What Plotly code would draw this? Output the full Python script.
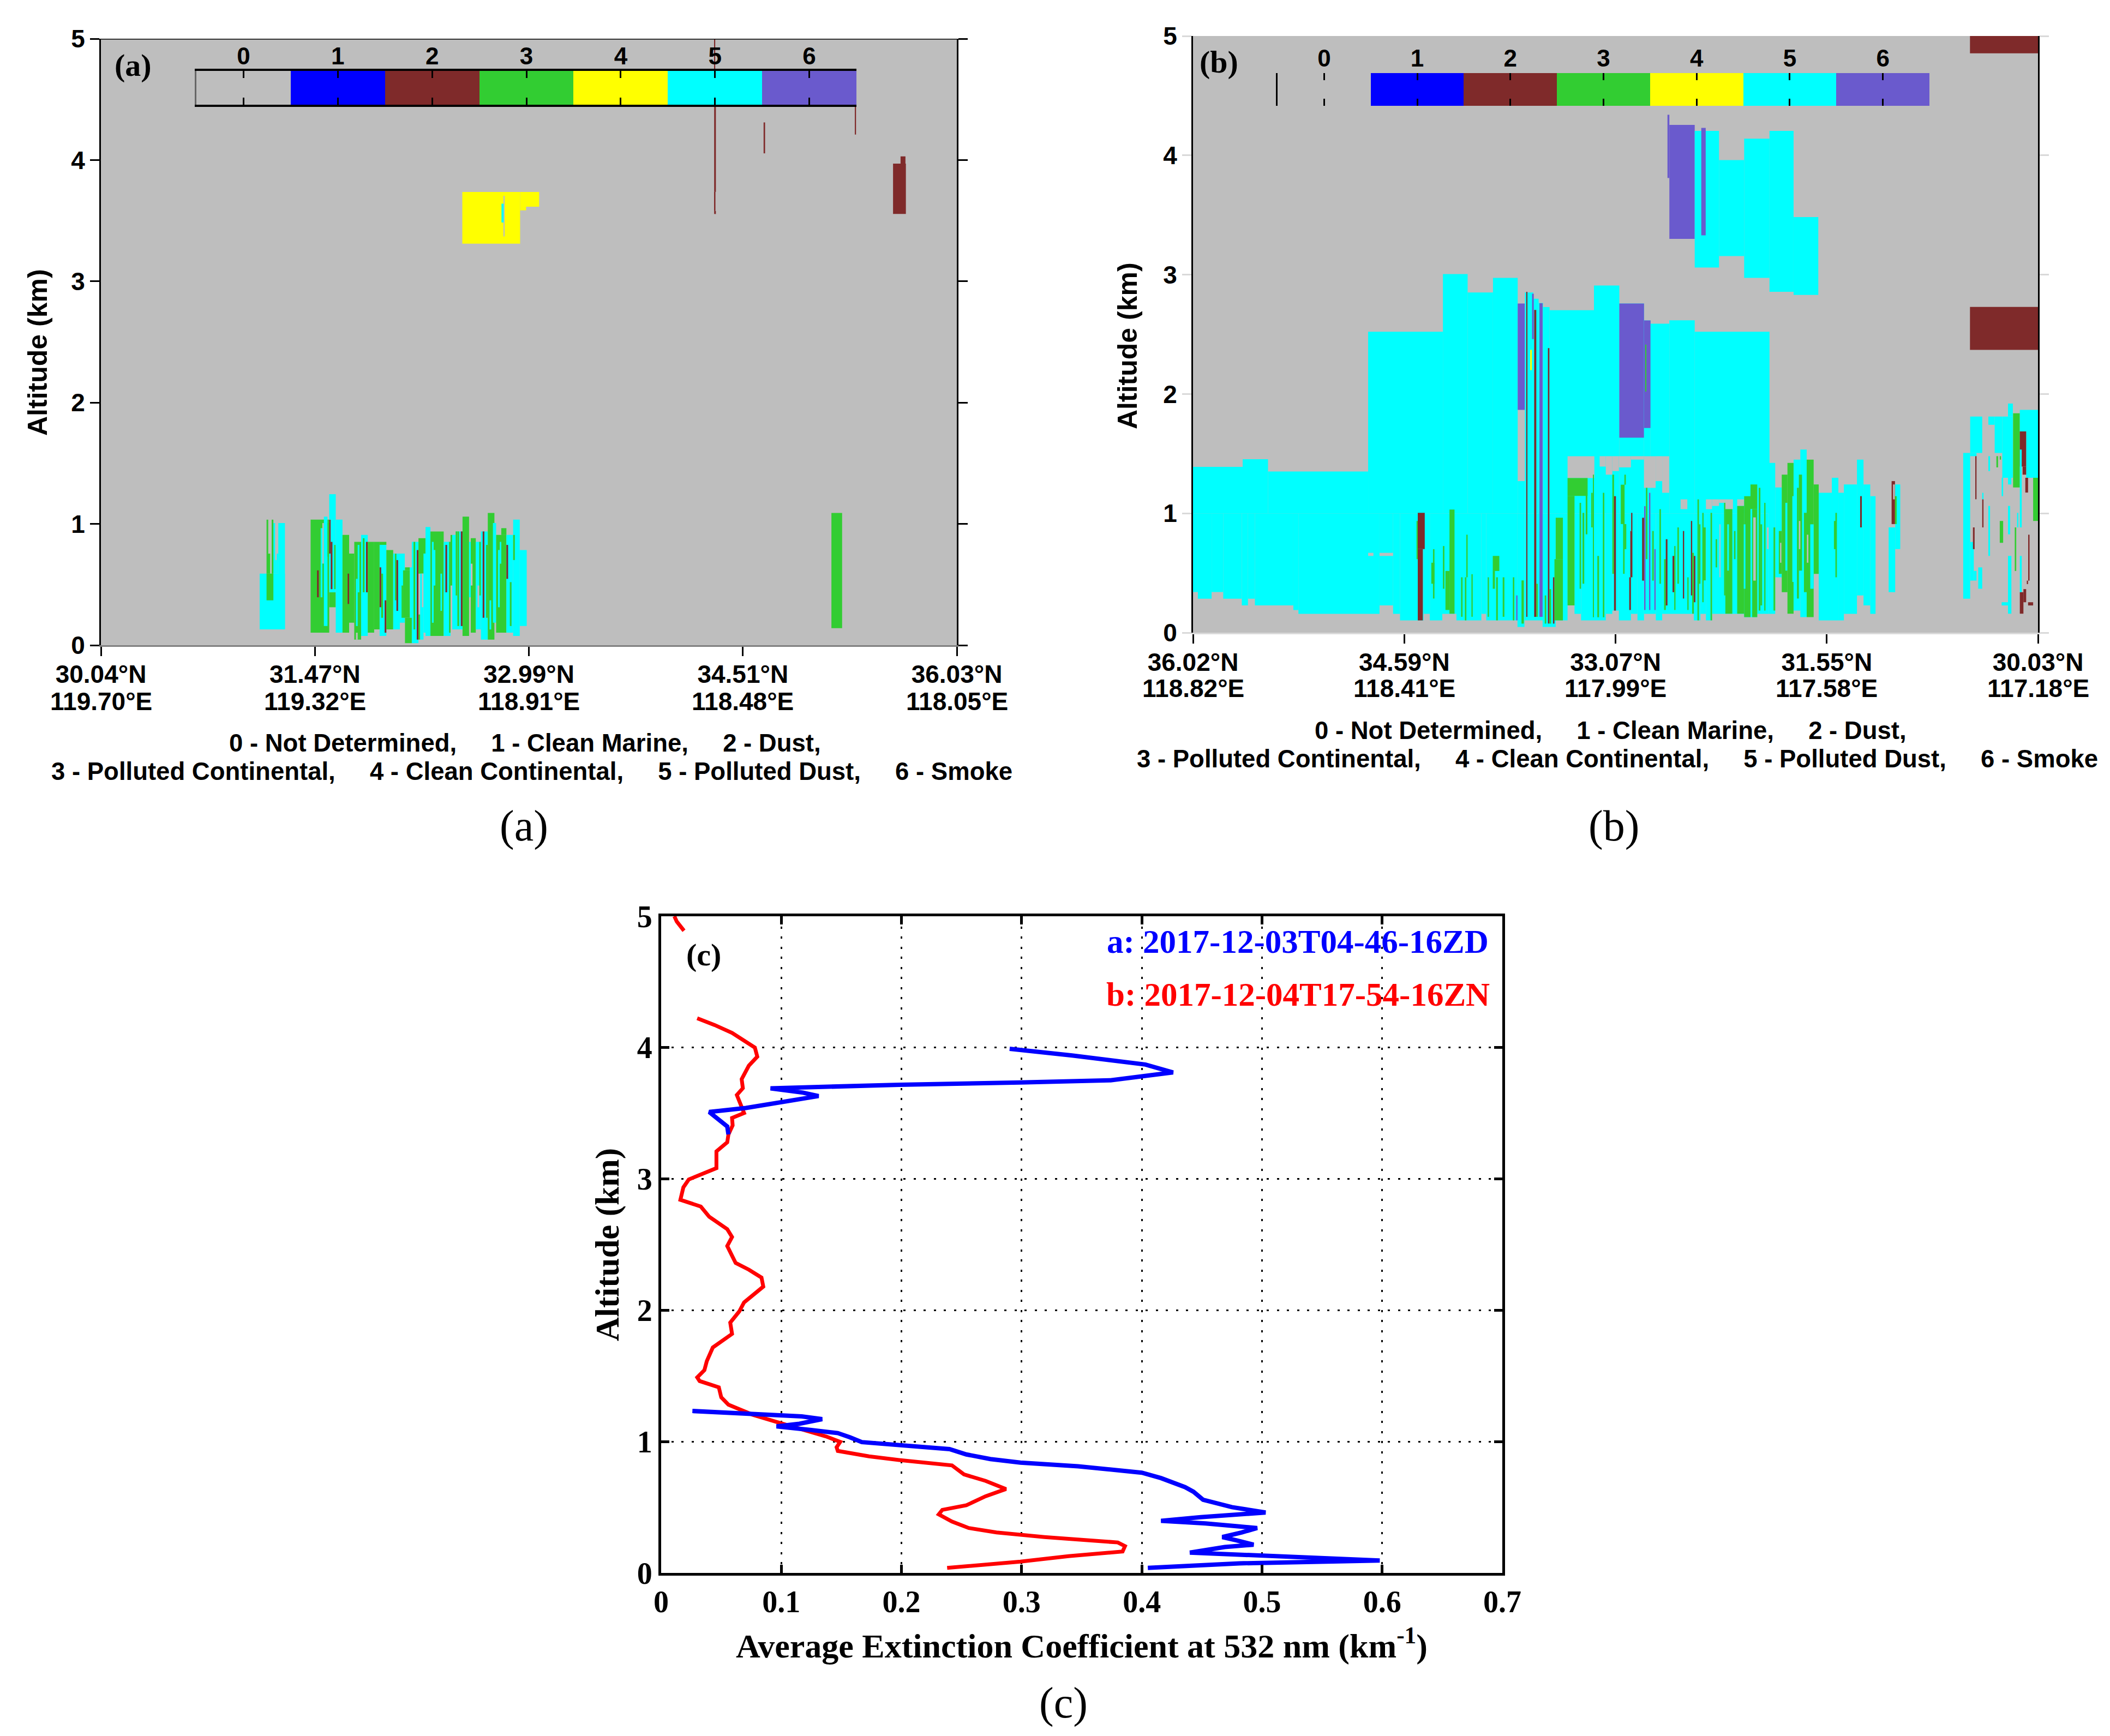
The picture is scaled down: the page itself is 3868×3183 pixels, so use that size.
import plotly.graph_objects as go

W, H = 3868, 3183

CLASS_COLORS = ["#BEBEBE", "#0000FF", "#7F2A2A", "#32CD32", "#FFFF00", "#00FFFF", "#6A5ACD"]
CLASS_TICKS = [0, 1, 2, 3, 4, 5, 6]
ALT_TICKS = [0, 1, 2, 3, 4, 5]
TRACK_TICKS = [0, 100, 200, 300, 400]

A_LAT = ["30.04°N", "31.47°N", "32.99°N", "34.51°N", "36.03°N"]
A_LON = ["119.70°E", "119.32°E", "118.91°E", "118.48°E", "118.05°E"]
B_LAT = ["36.02°N", "34.59°N", "33.07°N", "31.55°N", "30.03°N"]
B_LON = ["118.82°E", "118.41°E", "117.99°E", "117.58°E", "117.18°E"]

# rows: class, along-track start, along-track end, altitude bottom (km), altitude top (km)
A_BACKGROUND = [(0, 0, 400, 0, 5)]
A_ELEVATED = [
    (4, 168.9, 195.9, 3.31, 3.737), (4, 195.9, 204.8, 3.615, 3.737), (4, 195.9, 198.7, 3.585, 3.615),
    (0, 188.1, 188.7, 3.37, 3.705), (5, 187.2, 188.2, 3.485, 3.64),
    (2, 286.6, 287.4, 3.737, 4.46), (2, 286.8, 287.2, 3.58, 3.737), (2, 286.6, 287.4, 3.555, 3.58),
    (2, 286.8, 287.1, 4.74, 5.0), (2, 309.7, 310.4, 4.055, 4.31), (2, 352.5, 352.9, 4.21, 4.455),
    (2, 370.2, 376.2, 3.555, 3.97), (2, 373.7, 376.0, 3.97, 4.03), (3, 341.4, 346.4, 0.14, 1.09),
]
A_LOW_LEFT = [
    (5, 74.2, 86.0, 0.13, 0.59), (5, 82.9, 86.0, 0.13, 1.007), (5, 80.6, 81.4, 0.59, 1.007),
    (5, 82.2, 82.9, 0.59, 0.755), (5, 81.4, 82.2, 0.59, 0.702), (3, 77.4, 80.6, 0.37, 0.59),
    (3, 77.4, 79.1, 0.59, 0.755), (3, 77.4, 78.2, 0.755, 1.035), (3, 79.8, 80.6, 0.59, 1.035),
]
A_LOW_MID = [
    (3, 98, 106.7, 0.103, 1.035), (0, 103.5, 104.2, 0.672, 1.007), (5, 102.7, 103.5, 0.395, 0.965),
    (3, 103.5, 104.2, 0.395, 0.672), (2, 101, 101.8, 0.395, 0.617), (5, 104.2, 105.9, 0.158, 1.06),
    (3, 105.9, 106.7, 0.73, 1.007), (2, 106.7, 107.4, 0.755, 1.035), (5, 106.7, 109.75, 1.035, 1.245),
    (5, 107.4, 109.75, 0.436, 1.035), (5, 106.7, 107.4, 0.436, 0.755), (2, 107.4, 108.2, 0.462, 0.852),
    (3, 109, 109.75, 0.462, 0.827), (3, 106.7, 109.75, 0.313, 0.436), (5, 109.75, 112.9, 0.103, 1.035),
    (3, 112.9, 116, 0.103, 0.909), (3, 116, 118.4, 0.185, 0.755), (2, 115.3, 116, 0.34, 0.59),
    (3, 118.4, 121.6, 0.046, 0.852), (0, 119.2, 120, 0.046, 0.103), (5, 120, 120.8, 0.436, 0.827),
    (5, 119.2, 120, 0.158, 0.547), (5, 121.6, 124.7, 0.076, 0.909), (3, 122.4, 123.2, 0.436, 0.882),
    (2, 123.9, 124.7, 0.436, 0.852), (3, 124.7, 127.7, 0.103, 0.852), (3, 127.7, 130.25, 0.13, 0.852),
    (3, 130.25, 133.4, 0.827, 0.852), (5, 130.25, 133.4, 0.076, 0.827), (2, 130.25, 131, 0.313, 0.642),
    (3, 131, 131.85, 0.226, 0.59), (2, 132.6, 133.4, 0.103, 0.37), (3, 133.4, 136.6, 0.13, 0.785),
    (5, 136.6, 139.7, 0.13, 0.755), (3, 137.4, 138.1, 0.37, 0.755), (2, 138.1, 138.9, 0.283, 0.702),
    (5, 139.7, 142, 0.185, 0.755), (3, 140.5, 141.2, 0.226, 0.492), (3, 141.2, 144.4, 0.226, 0.617),
    (3, 142.1, 144.4, 0.617, 0.642), (5, 144.4, 145.3, 0.226, 0.642), (3, 142.1, 145.3, 0.017, 0.226),
]
A_LOW_RIGHT = [
    (5, 145.3, 148.4, 0.017, 0.852), (3, 146.1, 146.9, 0.13, 0.852), (2, 147.6, 148.4, 0.046, 0.785),
    (3, 148.4, 151.7, 0.59, 0.882), (3, 148.4, 149.2, 0.046, 0.253), (5, 149.2, 150.75, 0.046, 0.59),
    (0, 150, 150.75, 0.313, 0.59), (3, 150.75, 151.7, 0.755, 0.827), (5, 150.75, 152.3, 0.103, 0.755),
    (3, 152.3, 153.1, 0.313, 0.755), (5, 151.7, 154, 0.076, 0.975), (3, 154, 160.2, 0.076, 0.938),
    (5, 154.7, 155.5, 0.185, 0.852), (5, 155.5, 156.3, 0.492, 0.785), (5, 158.7, 159.4, 0.283, 0.59),
    (5, 160.2, 163.4, 0.076, 0.852), (2, 161, 161.8, 0.436, 0.827), (3, 162.7, 163.4, 0.103, 0.852),
    (3, 163.4, 164.2, 0.492, 0.909), (5, 164.2, 169, 0.13, 0.909), (5, 165.8, 169, 0.13, 0.938),
    (3, 165.8, 166.5, 0.41, 0.938), (3, 166.6, 167.4, 0.158, 0.938), (2, 168.2, 169, 0.158, 0.938),
    (3, 169, 172.05, 0.076, 1.06), (5, 172.05, 172.85, 0.395, 0.852), (3, 172.85, 175.2, 0.103, 0.882),
    (0, 172.85, 173.65, 0.492, 0.672), (5, 175.2, 177.6, 0.13, 0.852), (3, 176.8, 177.6, 0.41, 0.852),
    (5, 177.6, 180.8, 0.046, 0.938), (2, 178.4, 179.2, 0.226, 0.938), (0, 176, 176.8, 0.313, 0.492),
    (3, 180, 180.8, 0.226, 0.827), (3, 180.8, 183.9, 0.046, 1.09), (5, 181.6, 182.4, 0.13, 0.37),
    (5, 183.2, 184.7, 0.185, 1.007), (3, 184.7, 189.5, 0.103, 0.909), (3, 187.1, 189.5, 0.909, 0.965),
    (5, 185.6, 186.4, 0.313, 0.785), (5, 186.4, 187.1, 0.672, 0.852), (5, 189.5, 192.65, 0.103, 0.909),
    (2, 189.5, 190.3, 0.547, 0.827), (3, 191.1, 191.9, 0.158, 0.52), (5, 192.65, 195.75, 0.076, 1.035),
    (3, 192.65, 193.45, 0.702, 0.909), (5, 195.75, 199, 0.158, 0.785),
]

B_BACKGROUND = [(0, 0, 400, 0, 5)]
B_PLUME = [
    (6, 224.6, 225.5, 3.81, 4.34), (6, 225.5, 237.5, 3.30, 4.255), (5, 237.5, 249, 3.06, 4.205),
    (6, 240.6, 242.7, 3.33, 4.23), (5, 249, 260.9, 3.156, 3.96), (5, 260.9, 272.9, 2.973, 4.14),
    (5, 272.9, 284.3, 2.857, 4.205), (5, 284.3, 296, 2.83, 3.483),
    (2, 367.8, 400.7, 4.855, 5), (2, 367.8, 400.7, 2.37, 2.73),
]
B_MID_LAYER = [
    (5, 0, 23.5, 1, 1.389), (5, 23.5, 35.5, 1, 1.453), (5, 35.5, 82.9, 1, 1.351), (5, 82.9, 118.3, 1, 2.522),
    (5, 118.3, 130, 1, 3.005), (5, 130, 142, 1, 2.851), (5, 142, 153.7, 1, 2.973), (5, 153.7, 157.1, 1, 1.27),
    (6, 153.7, 157.1, 1.867, 2.758), (5, 157.1, 161.1, 1, 2.851), (5, 161.1, 163.6, 1, 2.798),
    (5, 163.6, 165.7, 1, 2.763), (5, 165.7, 168.8, 1, 2.729), (5, 168.8, 189.8, 1, 2.702),
    (5, 189.8, 201.8, 1, 2.909), (5, 201.8, 213.5, 1, 2.758), (6, 201.8, 213.5, 1.634, 2.758),
    (5, 213.5, 216.6, 1, 2.617), (6, 213.5, 216.6, 1.715, 2.617), (3, 214.1, 214.6, 2.02, 2.414),
    (5, 216.6, 225.5, 1, 2.589), (5, 225.5, 237.5, 1, 2.618), (5, 237.5, 272.9, 1, 2.522),
]
B_LOW_BASE = [
    (5, 0, 2.3, 0.34, 1), (5, 2.3, 8.8, 0.284, 1), (5, 8.8, 14.3, 0.34, 1), (5, 14.3, 23.1, 0.284, 1),
    (5, 23.1, 26, 0.228, 1), (5, 26, 29.3, 0.284, 1), (5, 29.3, 47.5, 0.228, 1), (5, 47.5, 49.9, 0.19, 1),
    (5, 49.9, 88.3, 0.158, 1), (5, 88.3, 94.7, 0.228, 1), (5, 94.7, 98, 0.158, 1), (5, 98, 109.1, 0.103, 1),
    (5, 109.1, 112.1, 0.158, 1), (5, 112.1, 118, 0.103, 1), (5, 118, 124.7, 0.158, 1), (5, 124.7, 136.5, 0.103, 1),
    (5, 136.5, 138.8, 0.158, 1), (5, 138.8, 153.6, 0.103, 1), (5, 153.6, 156.9, 0.048, 1), (5, 156.9, 165.5, 0.103, 1),
    (5, 165.5, 171.7, 0.048, 1), (5, 171.7, 177.3, 0.103, 1), (5, 177.3, 180.6, 0.228, 1), (5, 180.6, 183.7, 0.158, 1),
    (5, 183.7, 195.4, 0.103, 1), (5, 195.4, 198.5, 0.158, 1), (5, 198.5, 201.6, 0.185, 1), (5, 201.6, 207.3, 0.103, 1),
    (5, 207.3, 210.4, 0.158, 1), (5, 210.4, 213.5, 0.103, 1), (5, 213.5, 219.1, 0.158, 1), (5, 219.1, 222.1, 0.103, 1),
    (5, 222.1, 237.1, 0.158, 1), (5, 237.1, 240.2, 0.103, 1), (5, 240.2, 242.8, 0.158, 1), (5, 242.8, 245.7, 0.103, 1),
    (5, 245.7, 260.9, 0.158, 1), (5, 260.9, 267.1, 0.13, 1), (5, 267.1, 272.5, 0.158, 1),
]
B_LOW_EAST = [
    (5, 272.5, 275.6, 0.158, 1.423), (5, 275.6, 278.7, 0.464, 1.217), (3, 278.7, 281.4, 0.339, 1.324),
    (5, 280.4, 281.4, 0.52, 1.088), (3, 281.4, 284.3, 0.159, 1.423), (5, 284.3, 287.5, 0.185, 1.45),
    (5, 287.5, 290.5, 0.13, 1.534), (3, 290.5, 293.8, 0.13, 1.45), (3, 293.8, 296.2, 0.493, 1.242),
    (5, 296.2, 302.4, 0.103, 1.172), (5, 302.4, 305.5, 0.103, 1.298), (5, 305.5, 308.1, 0.103, 1.172),
    (5, 308.1, 314.3, 0.158, 1.242), (5, 314.3, 317.4, 0.312, 1.45), (5, 317.4, 320.6, 0.228, 1.242),
    (5, 320.6, 323.1, 0.158, 1.144), (5, 329.3, 332.4, 0.339, 0.882), (5, 332.4, 334.8, 0.7, 1.242),
]
B_GAPS = [
    (0, 177.3, 190, 1.296, 1.479), (0, 192.5, 195.4, 1.392, 1.479), (0, 195.4, 198.5, 1.324, 1.479),
    (0, 198.5, 201.6, 1.354, 1.479), (0, 201.6, 207.3, 1.385, 1.479), (0, 207.3, 213.5, 1.45, 1.479),
    (0, 213.5, 219, 1.214, 1.479), (0, 219, 222.1, 1.27, 1.479), (0, 222.1, 225.4, 1.172, 1.479),
    (0, 230.8, 234, 1.035, 1.117), (0, 242.8, 245.7, 1.035, 1.117), (0, 245.7, 249, 1.062, 1.117),
    (0, 249, 252, 1.088, 1.117), (0, 252, 255.6, 1.035, 1.117), (0, 257.6, 260.9, 1.062, 1.117),
    (0, 82.9, 85.4, 0.643, 0.669), (0, 88.3, 94.7, 0.643, 0.669),
]
B_STRIPES_WEST = [
    (3, 177.3, 186.8, 1.146, 1.296), (3, 177.3, 180.6, 0.228, 1.146),
    (3, 105.8, 106.4, 0.616, 0.936), (2, 106.4, 109.7, 0.7, 1.004), (2, 106.4, 108.8, 0.103, 0.7),
    (3, 112.8, 114.3, 0.41, 0.586), (3, 113.6, 114.3, 0.286, 0.7), (3, 118.3, 119, 0.368, 0.726),
    (3, 119.5, 121.4, 0.19, 0.517), (3, 121.4, 123.8, 0.159, 1.032), (3, 126.9, 127.6, 0.133, 0.464),
    (3, 128.7, 129.4, 0.103, 0.464), (3, 129.6, 130, 0.464, 0.821), (3, 131.8, 132.4, 0.133, 0.49),
    (3, 141.9, 145, 0.517, 0.643), (3, 141.9, 142.9, 0.368, 0.517), (3, 139.5, 140.1, 0.133, 0.464),
    (3, 143.5, 144.3, 0.103, 0.464), (3, 146.6, 147.4, 0.133, 0.464), (3, 151.4, 152.1, 0.103, 0.464),
    (3, 155.5, 156.6, 0.076, 0.438), (6, 153, 153.6, 0.103, 0.312),
    (2, 157.75, 158.3, 0.133, 2.857), (2, 161.5, 162.5, 0.133, 2.705), (6, 164, 165.5, 0.133, 2.76),
    (2, 168, 168.7, 0.076, 2.385), (6, 160.5, 161.3, 2.46, 2.84), (4, 159.6, 160.4, 2.2, 2.37),
]
B_STRIPES_CENTRE = [
    (3, 162.5, 163.2, 0.133, 0.41), (3, 166.5, 167.2, 0.076, 0.312), (3, 168.7, 169.5, 0.076, 0.365),
    (2, 170.4, 171.1, 0.076, 0.464), (3, 171.1, 175.1, 0.103, 0.616), (3, 171.7, 175.1, 0.616, 0.963),
    (3, 183, 183.7, 0.368, 1.088), (3, 184.4, 185.2, 0.41, 1.004), (3, 185.9, 186.7, 0.824, 1.172),
    (3, 188.5, 189.2, 0.882, 1.172), (3, 189.4, 189.8, 0.129, 1.324), (3, 191.4, 192.2, 0.129, 0.643),
    (3, 194, 194.7, 0.129, 1.172), (3, 198.5, 199.3, 0.493, 1.324), (2, 199.3, 200.2, 0.185, 1.144),
    (3, 202.5, 204.3, 0.91, 1.24), (3, 204.2, 204.9, 1.24, 1.324), (3, 203.6, 204.3, 0.493, 0.91),
    (3, 204.3, 205.1, 0.7, 0.91), (2, 207, 208, 0.464, 0.852), (2, 207.4, 208, 0.852, 1.004),
    (2, 206.5, 207.3, 0.19, 0.464), (2, 212.6, 213.5, 0.436, 0.963), (6, 213.7, 214.2, 0.19, 1.06),
    (3, 214.4, 215.1, 0.616, 1.214), (6, 216, 216.5, 0.19, 1.172), (3, 217.4, 218.1, 0.436, 0.852),
    (6, 218.4, 219, 0.19, 0.7), (3, 220.8, 221.5, 0.41, 1.035),
    (3, 223, 223.8, 0.19, 0.616), (2, 223.8, 224.6, 0.228, 0.783), (2, 227, 227.8, 0.339, 0.643),
    (3, 227.8, 228.4, 0.19, 0.726), (3, 229.3, 230, 0.41, 0.882), (2, 231.9, 232.5, 0.286, 0.852),
    (3, 234, 234.6, 0.19, 0.464), (2, 235.7, 236.3, 0.312, 0.936), (3, 236.3, 237.1, 0.159, 0.669),
    (2, 237.1, 237.8, 0.255, 0.643), (3, 238.8, 239.5, 0.103, 1.117), (3, 239.5, 240.2, 0.41, 0.908),
    (3, 241.1, 241.7, 0.255, 1.004), (3, 241.7, 242.7, 0.438, 0.882), (3, 245, 245.7, 0.103, 1.004),
    (3, 247.4, 248.1, 0.547, 0.783),
]
B_STRIPES_EAST = [
    (0, 249.2, 249.6, 0.464, 0.908), (3, 251.4, 252, 0.312, 1.088), (3, 252, 255.3, 0.159, 1.035),
    (5, 252.9, 253.7, 0.52, 0.908), (3, 256.1, 256.8, 0.616, 0.852), (3, 257.6, 260.9, 0.159, 1.062),
    (3, 260.9, 263.9, 0.13, 1.144), (3, 263.9, 267.1, 1.035, 1.242), (3, 264.7, 267.1, 0.13, 1.035),
    (0, 265.2, 266.4, 0.436, 0.966), (5, 263.9, 264.7, 0.185, 1.035), (5, 260.7, 261.5, 0.368, 0.908),
    (3, 267.8, 268.6, 0.185, 1.214), (3, 268.6, 269.4, 0.228, 0.908), (3, 270.4, 271, 0.185, 1.088),
    (0, 271.7, 272.5, 0.7, 0.882), (3, 274.8, 275.6, 0.185, 0.882), (3, 277.3, 278.7, 0.493, 0.852),
    (0, 277.9, 278.5, 0.586, 0.753), (5, 283.7, 284.3, 0.425, 1.144), (3, 285.9, 286.8, 0.286, 1.214),
    (3, 286.8, 288.3, 0.52, 1.324), (0, 286.8, 287.5, 0.7, 0.936), (3, 289.2, 290.5, 0.339, 1.004),
    (5, 292.2, 293.8, 0.368, 0.908), (0, 290.6, 291.3, 0.586, 0.821), (3, 303.4, 304.5, 0.7, 0.936),
    (3, 304.1, 304.8, 0.464, 1.004), (2, 315.8, 316.6, 0.882, 1.144), (2, 330.7, 332.3, 0.91, 1.27),
    (0, 331.4, 332.2, 1.117, 1.242), (3, 332.3, 333.1, 0.91, 1.144),
]
B_FRAGMENTS = [
    (5, 364.6, 367.9, 0.284, 1.506), (5, 367.9, 373.6, 1.506, 1.811), (5, 367.9, 370.9, 1.479, 1.506),
    (5, 367.9, 369.6, 0.436, 0.76), (5, 369.6, 370.9, 0.436, 0.517), (5, 371.7, 373.6, 0.368, 0.547),
    (2, 370.3, 370.9, 1.118, 1.479), (2, 369.2, 370, 0.7, 0.882), (5, 373.6, 374.2, 1.117, 1.172),
    (2, 373.6, 374.2, 0.882, 1.117), (5, 376.5, 377.3, 1.354, 1.479), (5, 376.5, 379.5, 1.742, 1.811),
    (5, 379.5, 383.1, 1.506, 1.811), (5, 383.1, 388.1, 1.298, 1.811), (5, 385.8, 388.1, 1.811, 1.92),
    (5, 385.8, 387.4, 1.242, 1.298), (5, 382.8, 383.5, 1.144, 1.298), (5, 376.5, 377.3, 0.643, 1.062),
    (5, 385.8, 386.8, 0.824, 1.062), (5, 385.8, 387.4, 0.159, 0.643), (3, 380.3, 381.1, 1.385, 1.479),
    (3, 381.9, 382.5, 1.45, 1.479), (3, 381.9, 383.5, 0.753, 0.936), (3, 388.2, 391.4, 1.217, 1.838),
    (3, 389, 389.7, 0.517, 0.882), (5, 390.1, 390.7, 0.882, 1.004), (5, 391.4, 400, 1.686, 1.867),
    (5, 394.4, 400, 1.298, 1.686), (2, 391.4, 394.4, 1.392, 1.686), (2, 392.7, 394.4, 1.324, 1.392),
    (2, 394, 395.3, 1.174, 1.298), (5, 391.4, 392.3, 0.882, 1.534), (3, 397.7, 400, 0.936, 1.298),
    (5, 391.4, 392.3, 0.339, 0.643), (2, 391.4, 393.1, 0.159, 0.339), (2, 393.1, 394.4, 0.255, 0.365),
    (2, 395.3, 397.7, 0.228, 0.255), (5, 382.8, 385.8, 0.228, 0.255), (2, 394.7, 395.3, 0.407, 0.436),
    (2, 395.6, 396, 0.436, 0.821),
]

BLUE_EXT = [0.405, 0.44, 0.481, 0.598, 0.538, 0.493, 0.44, 0.469, 0.493, 0.479, 0.467, 0.483, 0.496, 0.453, 0.416,
            0.449, 0.503, 0.475, 0.451, 0.443, 0.436, 0.416, 0.4, 0.347, 0.299, 0.274, 0.254, 0.24, 0.202, 0.167,
            0.157, 0.147, 0.125, 0.096, 0.115, 0.134, 0.117, 0.026, None,
            0.056, 0.055, 0.04, 0.0705, 0.131, 0.118, 0.091, 0.198, 0.299, 0.374, 0.426, 0.403, 0.342, 0.29]
BLUE_ALT = [0.038, 0.055, 0.073, 0.094, 0.12, 0.137, 0.155, 0.197, 0.215, 0.248, 0.273, 0.308, 0.342, 0.377, 0.397,
            0.425, 0.46, 0.501, 0.557, 0.618, 0.653, 0.722, 0.763, 0.812, 0.84, 0.867, 0.902, 0.943, 0.967, 0.996,
            1.033, 1.065, 1.088, 1.116, 1.136, 1.171, 1.192, 1.233, None,
            3.339, 3.4, 3.51, 3.54, 3.631, 3.657, 3.69, 3.717, 3.734, 3.751, 3.811, 3.871, 3.94, 3.991]
RED_EXT = [0.238, 0.299, 0.339, 0.384, 0.386, 0.38, 0.319, 0.279, 0.256, 0.242, 0.231, 0.234, 0.254, 0.27, 0.287, 0.27,
           0.252, 0.242, 0.198, 0.173, 0.147, 0.146, 0.149, 0.137, 0.096, 0.076, 0.056, 0.05, 0.048, 0.032, 0.03, 0.036,
           0.038, 0.043, 0.059, 0.0575, 0.065, 0.069, 0.085, 0.0835, 0.073, 0.062, 0.055, 0.059, 0.055, 0.04, 0.033,
           0.016, 0.0185, 0.023, 0.046, 0.046, 0.055, 0.056, 0.0595, 0.059, 0.069, 0.065, 0.063, 0.068, 0.067, 0.073,
           0.08, 0.078, 0.059, 0.0445, 0.03, None, 0.019, 0.013, 0.011]
RED_ALT = [0.038, 0.086, 0.128, 0.163, 0.204, 0.232, 0.273, 0.308, 0.342, 0.391, 0.446, 0.48, 0.515, 0.584, 0.639, 0.701,
           0.75, 0.819, 0.86, 0.888, 0.929, 0.957, 0.998, 1.04, 1.15, 1.205, 1.281, 1.337, 1.413, 1.461, 1.489, 1.544,
           1.613, 1.717, 1.82, 1.906, 1.991, 2.06, 2.18, 2.249, 2.309, 2.36, 2.489, 2.558, 2.618, 2.712, 2.79,
           2.841, 2.936, 2.996, 3.082, 3.21, 3.279, 3.339, 3.408, 3.464, 3.502, 3.588, 3.639, 3.691, 3.76, 3.863,
           3.931, 4.0, 4.112, 4.172, 4.223, None, 4.89, 4.96, 5.0]

SANS = "Liberation Sans"
SERIF = "Liberation Serif"


def hdom(x0, x1):
    return [x0 / W, x1 / W]


def vdom(top, bottom):
    return [1 - bottom / H, 1 - top / H]


def curtain(rows, xa, ya):
    left = [r[1] for r in rows]
    right = [r[2] for r in rows]
    low = [r[3] for r in rows]
    high = [r[4] for r in rows]
    return go.Bar(
        x=[(a + b) / 2 for a, b in zip(left, right)],
        width=[b - a for a, b in zip(left, right)],
        base=low,
        y=[b - a for a, b in zip(low, high)],
        marker=dict(color=[CLASS_COLORS[r[0]] for r in rows], line=dict(width=0)),
        xaxis=xa, yaxis=ya, showlegend=False, hoverinfo="skip",
    )


def class_bar(xa, ya):
    scale = []
    for i, c in enumerate(CLASS_COLORS):
        scale += [[i / 7, c], [(i + 1) / 7, c]]
    return go.Heatmap(z=[CLASS_TICKS], x=CLASS_TICKS, y=[0], zmin=-0.5, zmax=6.5, colorscale=scale,
                      showscale=False, xaxis=xa, yaxis=ya, hoverinfo="skip")


fig = go.Figure()
fig.add_trace(curtain(A_BACKGROUND + A_ELEVATED + A_LOW_LEFT + A_LOW_MID + A_LOW_RIGHT, "x", "y"))
fig.add_trace(curtain(B_BACKGROUND + B_PLUME + B_MID_LAYER + B_LOW_BASE + B_LOW_EAST + B_GAPS
                      + B_STRIPES_WEST + B_STRIPES_CENTRE + B_STRIPES_EAST + B_FRAGMENTS, "x2", "y2"))
fig.add_trace(go.Scatter(x=RED_EXT, y=RED_ALT, mode="lines", line=dict(color="#FF0000", width=7),
                         xaxis="x3", yaxis="y3", showlegend=False, hoverinfo="skip"))
fig.add_trace(go.Scatter(x=BLUE_EXT, y=BLUE_ALT, mode="lines", line=dict(color="#0000FF", width=8),
                         xaxis="x3", yaxis="y3", showlegend=False, hoverinfo="skip"))
fig.add_trace(class_bar("x4", "y4"))
fig.add_trace(class_bar("x5", "y5"))

sans_tick = dict(family=SANS, size=46, color="black", weight="bold")
serif_tick = dict(family=SERIF, size=56, color="black", weight="bold")


def track_axis(domain, labels, anchor, color, standoff):
    return dict(domain=domain, anchor=anchor, range=[0, 400], tickmode="array", tickvals=TRACK_TICKS, ticktext=labels,
                ticks="outside", ticklen=17, tickwidth=3, tickcolor="black", showline=True, linecolor=color,
                linewidth=3, showgrid=False, zeroline=False, tickfont=sans_tick, tickangle=0, fixedrange=True,
                automargin=False, ticklabelstandoff=standoff)


def alt_axis(domain, anchor, **extra):
    base = dict(domain=domain, anchor=anchor, range=[0, 5], tickmode="array", tickvals=ALT_TICKS,
                ticks="outside", ticklen=17, tickwidth=3, tickcolor="black", showline=True, linecolor="black",
                linewidth=3, mirror="ticks", showgrid=False, zeroline=False, tickfont=sans_tick,
                fixedrange=True, automargin=False)
    base.update(extra)
    return base


def bar_x(domain, anchor, line_on, standoff):
    return dict(domain=domain, anchor=anchor, range=[-0.5, 6.5], side="top", tickmode="array", tickvals=CLASS_TICKS,
                ticks="inside", ticklen=13, tickwidth=2.5, tickcolor="black", mirror="ticks" if not line_on else "allticks",
                showline=line_on, linecolor="black", linewidth=4, showgrid=False, zeroline=False,
                tickfont=dict(family=SANS, size=44, color="black", weight="bold"), fixedrange=True, automargin=False,
                ticklabelstandoff=standoff)


def bar_y(domain, anchor, color, width):
    return dict(domain=domain, anchor=anchor, range=[-0.5, 0.5], showticklabels=False, ticks="", showgrid=False,
                zeroline=False, showline=True, linecolor=color, linewidth=width, fixedrange=True, automargin=False)


def grid_axis(**extra):
    base = dict(ticks="inside", ticklen=15, tickwidth=5, tickcolor="black", showline=True, linecolor="black",
                linewidth=5, mirror="ticks", showgrid=True, gridcolor="black", griddash="4px,14.5px", gridwidth=3,
                zeroline=False, tickfont=serif_tick, fixedrange=True, automargin=False)
    base.update(extra)
    return base


notes = []


def note(text, x, y, family, size, color="black", weight="bold", anchor="center", xref="paper", angle=0):
    notes.append(dict(text=text, x=x if xref != "paper" else x / W, y=1 - y / H, xref=xref, yref="paper",
                      xanchor=anchor, yanchor="middle", showarrow=False, textangle=angle,
                      font=dict(family=family, size=size, color=color, weight=weight)))


for t, lon in zip(TRACK_TICKS, A_LON):
    note(lon, t, 1286, SANS, 46, xref="x")
for t, lon in zip(TRACK_TICKS, B_LON):
    note(lon, t, 1262, SANS, 46, xref="x2")

note("Altitude (km)", 69, 646, SANS, 50, angle=-90)
note("Altitude (km)", 2067, 634, SANS, 50, angle=-90)
note("0 - Not Determined,     1 - Clean Marine,     2 - Dust,", 962, 1362, SANS, 45.5)
note("3 - Polluted Continental,     4 - Clean Continental,     5 - Polluted Dust,     6 - Smoke", 975, 1414, SANS, 45.5)
note("0 - Not Determined,     1 - Clean Marine,     2 - Dust,", 2952, 1340, SANS, 45.5)
note("3 - Polluted Continental,     4 - Clean Continental,     5 - Polluted Dust,     6 - Smoke", 2965, 1391, SANS, 45.5)
note("(a)", 244, 119, SERIF, 58)
note("(b)", 2234, 113, SERIF, 58)
note("(c)", 1290, 1750, SERIF, 58)
note("a: 2017-12-03T04-46-16ZD", 2731, 1727, SERIF, 61, color="#0000FF", anchor="right")
note("b: 2017-12-04T17-54-16ZN", 2733, 1823, SERIF, 61, color="#FF0000", anchor="right")
note("(a)", 960, 1515, SERIF, 80, weight="normal")
note("(b)", 2958, 1515, SERIF, 80, weight="normal")
note("(c)", 1949, 3122, SERIF, 80, weight="normal")

layout = dict(
    width=W, height=H, autosize=False, margin=dict(l=0, r=0, t=0, b=0, pad=0),
    paper_bgcolor="white", plot_bgcolor="white", barmode="overlay", showlegend=False, annotations=notes,
    xaxis=track_axis(hdom(185, 1754), A_LAT, "y", "#808080", -6),
    yaxis=alt_axis(vdom(71, 1183), "x"),
    xaxis2=track_axis(hdom(2187, 3736), B_LAT, "y2", "#D9D9D9", -5),
    yaxis2=alt_axis(vdom(66, 1160), "x2", tickcolor="#D9D9D9",
                    minor=dict(tickmode="array", tickvals=[1, 2, 4], ticks="outside", ticklen=17, tickwidth=3,
                               tickcolor="black")),
    xaxis3=grid_axis(domain=hdom(1212, 2754), anchor="y3", range=[0, 0.7], tickmode="array",
                     tickvals=[0, 0.1, 0.2, 0.3, 0.4, 0.5, 0.6, 0.7],
                     ticktext=["0", "0.1", "0.2", "0.3", "0.4", "0.5", "0.6", "0.7"],
                     title=dict(text="Average Extinction Coefficient at 532 nm (km<sup>-1</sup>)",
                                font=dict(family=SERIF, size=62, color="black", weight="bold"), standoff=30)),
    yaxis3=grid_axis(domain=vdom(1680, 2884), anchor="x3", range=[0, 5], tickmode="array", tickvals=ALT_TICKS,
                     title=dict(text="Altitude (km)",
                                font=dict(family=SERIF, size=61, color="black", weight="bold"), standoff=15)),
    xaxis4=bar_x(hdom(360, 1570), "y4", True, -10),
    yaxis4=bar_y(vdom(130, 192), "x4", "#666666", 3),
    xaxis5=bar_x(hdom(2342, 3537), "y5", False, 2),
    yaxis5=bar_y(vdom(134, 194), "x5", "black", 3),
    shapes=[dict(type="line", xref="x", yref="y", x0=0, x1=400, y0=5, y1=5, line=dict(color="black", width=3))],
)
fig.update_layout(**layout)
fig.write_html("out.html", config=dict(displayModeBar=False), post_script="document.body.style.margin='0';")
